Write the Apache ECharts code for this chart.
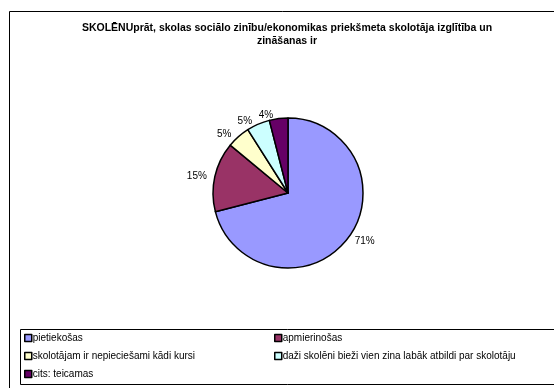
<!DOCTYPE html>
<html>
<head>
<meta charset="utf-8">
<script src="https://cdn.jsdelivr.net/npm/echarts@6/dist/echarts.min.js"></script>
<style>
  html, body { margin: 0; padding: 0; background: #fff; }
  #chart { width: 554px; height: 388px; }
</style>
</head>
<body>
<div id="chart"></div>
<script>
  // kategorijas un vērtības
  var categories = [
    'pietiekošas',
    'apmierinošas',
    'skolotājam ir nepieciešami kādi kursi',
    'daži skolēni bieži vien zina labāk atbildi par skolotāju',
    'cits: teicamas'
  ];
  var values = [71, 15, 5, 5, 4];
  var colors = ['#9999FF', '#993366', '#FFFFCC', '#CCFFFF', '#660066'];

  var font = 'Arial, "Liberation Sans", sans-serif';

  var chart = echarts.init(document.getElementById('chart'));

  var pieData = categories.map(function (name, i) {
    return { name: name, value: values[i], itemStyle: { color: colors[i] } };
  });

  var legendText = { fontFamily: font, fontSize: 10, color: '#000', padding: [0, 0, 0, -4] };
  var legendIcon = { borderColor: '#000', borderWidth: 1.5 };

  var option = {
    backgroundColor: '#fff',
    animation: false,
    title: {
      text: 'SKOLĒNUprāt, skolas sociālo zinību/ekonomikas priekšmeta skolotāja izglītība un\nzināšanas ir',
      left: 287,
      top: 22,
      padding: 0,
      textAlign: 'center',
      textStyle: { fontFamily: font, fontSize: 10.5, fontWeight: 'bold', color: '#000', lineHeight: 13 }
    },
    // legenda: divas kolonnas
    legend: [
      {
        orient: 'vertical',
        left: 24,
        top: 333,
        padding: 0,
        itemGap: 8,
        itemWidth: 7,
        itemHeight: 7,
        icon: 'rect',
        itemStyle: legendIcon,
        data: [categories[0], categories[2], categories[4]],
        textStyle: legendText
      },
      {
        orient: 'vertical',
        left: 274,
        top: 333,
        padding: 0,
        itemGap: 8,
        itemWidth: 7,
        itemHeight: 7,
        icon: 'rect',
        itemStyle: legendIcon,
        data: [categories[1], categories[3]],
        textStyle: legendText
      }
    ],
    graphic: [
      {
        type: 'rect',
        shape: { x: 9.5, y: 11.5, width: 600, height: 400 },
        style: { fill: null, stroke: '#000', lineWidth: 1 },
        z: -1
      },
      {
        type: 'rect',
        shape: { x: 20.5, y: 329.5, width: 600, height: 55 },
        style: { fill: null, stroke: '#000', lineWidth: 1 },
        z: -1
      }
    ],
    series: [
      {
        type: 'pie',
        center: [288, 193],
        radius: 75,
        startAngle: 90,
        clockwise: true,
        avoidLabelOverlap: false,
        data: pieData,
        itemStyle: { borderColor: '#000', borderWidth: 1.5 },
        emphasis: { disabled: true },
        label: {
          show: true,
          position: 'outside',
          formatter: '{d}%',
          fontFamily: font,
          fontSize: 10,
          color: '#000'
        },
        labelLine: { show: false, length: 3, length2: 0 }
      }
    ]
  };

  chart.setOption(option);
</script>
</body>
</html>
